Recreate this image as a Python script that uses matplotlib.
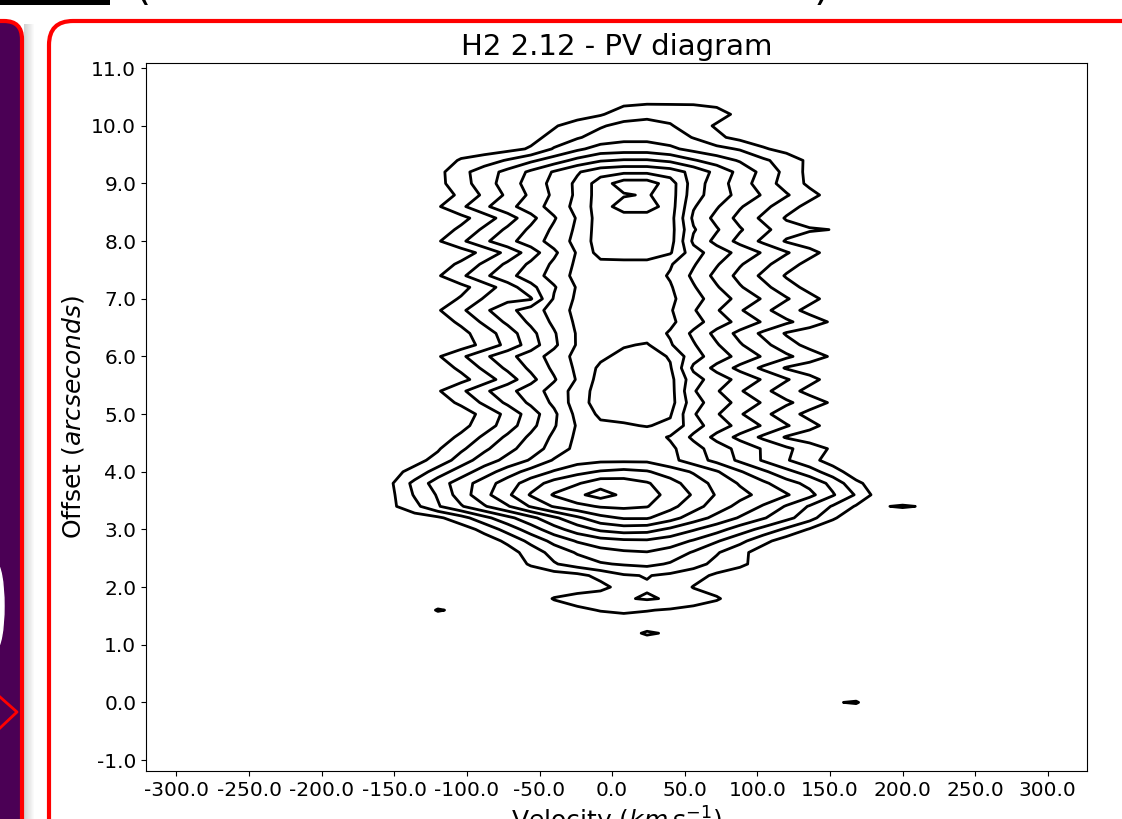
import numpy as np
import matplotlib
matplotlib.use("Agg")
import matplotlib.pyplot as plt
from matplotlib.patches import FancyBboxPatch, Rectangle, Ellipse
from matplotlib.ticker import FormatStrFormatter

# velocity channels (km/s)
velocity = [-168, -152, -136, -120, -104, -88, -72, -56, -40, -24, -8, 8, 24,
            40, 56, 72, 88, 104, 120, 136, 152, 168, 184, 200, 216, 232]

# contour levels (arbitrary flux units)
levels = [0.5, 1.5, 2.5, 3.5, 4.5, 5.5, 6.5, 7.5, 8.5, 9.5]

x_ticks = [-300, -250, -200, -150, -100, -50, 0, 50, 100, 150, 200, 250, 300]
y_ticks = [-1, 0, 1, 2, 3, 4, 5, 6, 7, 8, 9, 10, 11]

# flux rows, listed from the top offset downwards
offset_top = [10.6, 10.4, 10.2, 10.0, 9.8, 9.6, 9.4, 9.2, 9.0]
flux_top = [
    [0, 0, 0, 0, 0, 0, 0, 0, 0, 0, 0, 0, 0, 0, 0, 0, 0, 0, 0, 0, 0, 0, 0, 0, 0, 0],
    [0, 0, 0, 0, 0, 0, 0, 0, 0, 0, 0, 0.3, 0.4, 0.4, 0.4, 0.3, 0, 0, 0, 0, 0, 0, 0, 0, 0, 0],
    [0, 0, 0, 0, 0, 0, 0, 0, 0, 0, 0.4, 1.0, 1.2, 1.1, 1.0, 0.8, 0.3, 0, 0, 0, 0, 0, 0, 0, 0, 0],
    [0, 0, 0, 0, 0, 0, 0, 0, 0.4, 1.0, 1.4, 1.8, 1.9, 1.6, 0.9, 0.4, 0, 0, 0, 0, 0, 0, 0, 0, 0, 0],
    [0, 0, 0, 0, 0, 0, 0, 0.2, 0.8, 1.4, 1.9, 2.2, 2.2, 2.0, 1.45, 0.7, 0.2, 0, 0, 0, 0, 0, 0, 0, 0, 0],
    [0, 0, 0, 0, 0, 0, 0.2, 0.6, 1.6, 2.3, 2.9, 3.0, 3.0, 2.7, 2.2, 1.8, 1.4, 0.6, 0.2, 0, 0, 0, 0, 0, 0, 0],
    [0, 0, 0, 0, 0.6, 1.0, 1.6, 2.3, 3.0, 3.8, 4.4, 4.6, 4.6, 4.3, 3.6, 3.0, 2.4, 1.7, 1.0, 0.3, 0, 0, 0, 0, 0, 0],
    [0, 0, 0, 0.2, 1.2, 2.0, 2.8, 3.7, 4.6, 5.4, 6.1, 6.3, 6.3, 6.0, 5.2, 4.2, 3.2, 2.2, 1.2, 0.2, 0, 0, 0, 0, 0, 0],
    [0, 0, 0, 0.2, 1.1, 2.0, 3.0, 3.9, 4.8, 5.7, 7.0, 8.0, 8.0, 7.0, 5.0, 4.0, 3.0, 2.0, 1.1, 0.3, 0, 0, 0, 0, 0, 0],
]

offset_upper = [8.8, 8.6, 8.4, 8.2, 8.0, 7.8, 7.6, 7.4, 7.2, 7.0, 6.8, 6.6,
                6.4, 6.2, 6.0, 5.8, 5.6, 5.4, 5.2, 5.0, 4.8, 4.6, 4.4]
flux_upper = [
    [0, 0, 0, 0, 0.7, 1.7, 2.7, 3.7, 4.7, 5.7, 7.0, 7.4, 7.6, 7.0, 4.9, 4.0, 3.2, 2.4, 1.6, 0.8, 0.1, 0, 0, 0, 0, 0],
    [0, 0, 0, 0.4, 1.3, 2.3, 3.2, 4.0, 4.9, 5.8, 7.0, 8.0, 8.0, 7.0, 4.6, 3.6, 2.6, 1.8, 0.9, 0.2, 0, 0, 0, 0, 0, 0],
    [0, 0, 0, 0, 0.2, 1.0, 2.0, 3.2, 4.4, 5.6, 7.0, 7.0, 7.0, 6.9, 4.3, 3.2, 2.2, 1.3, 0.4, 0, 0, 0, 0, 0, 0, 0],
    [0, 0, 0, 0, 0.7, 1.7, 2.7, 3.7, 4.7, 5.7, 7.0, 7.0, 7.0, 6.9, 4.6, 3.6, 2.6, 1.8, 0.9, 0.6, 0.48, 0, 0, 0, 0, 0],
    [0, 0, 0, 0.4, 1.3, 2.3, 3.2, 4.0, 4.9, 5.8, 7.0, 7.0, 7.0, 6.9, 4.3, 3.2, 2.2, 1.3, 0.4, 0, 0, 0, 0, 0, 0, 0],
    [0, 0, 0, 0, 0, 0.8, 1.8, 3.0, 4.3, 5.6, 6.9, 7.0, 7.0, 6.6, 4.9, 4.0, 3.2, 2.4, 1.6, 0.8, 0.1, 0, 0, 0, 0, 0],
    [0, 0, 0, 0, 0.7, 1.7, 2.7, 3.7, 4.7, 5.7, 6.2, 6.2, 6.2, 5.6, 4.6, 3.6, 2.6, 1.8, 0.9, 0.2, 0, 0, 0, 0, 0, 0],
    [0, 0, 0, 0.4, 1.3, 2.3, 3.2, 4.0, 4.9, 5.8, 6.0, 6.0, 6.0, 5.4, 4.3, 3.2, 2.2, 1.3, 0.4, 0, 0, 0, 0, 0, 0, 0],
    [0, 0, 0, 0, 0.2, 1.0, 2.0, 3.2, 4.4, 5.6, 6.0, 6.0, 6.0, 5.6, 4.6, 3.6, 2.6, 1.8, 0.9, 0.2, 0, 0, 0, 0, 0, 0],
    [0, 0, 0, 0, 0.6, 1.6, 2.2, 2.4, 4.6, 5.7, 6.0, 6.0, 6.0, 5.7, 4.9, 4.0, 3.2, 2.4, 1.6, 0.8, 0.1, 0, 0, 0, 0, 0],
    [0, 0, 0, 0.4, 1.3, 2.3, 3.2, 4.0, 4.9, 5.8, 6.0, 6.0, 6.0, 5.6, 4.6, 3.6, 2.6, 1.8, 0.9, 0.2, 0, 0, 0, 0, 0, 0],
    [0, 0, 0, 0, 0.7, 1.7, 2.7, 3.7, 4.7, 5.7, 6.0, 6.0, 6.0, 5.7, 4.9, 4.0, 3.2, 2.4, 1.7, 1.0, 0.35, 0, 0, 0, 0, 0],
    [0, 0, 0, 0, 0.2, 1.0, 2.0, 3.2, 4.4, 5.6, 6.0, 6.0, 6.0, 5.4, 4.3, 3.2, 2.2, 1.3, 0.4, 0, 0, 0, 0, 0, 0, 0],
    [0, 0, 0, 0, 0, 0.8, 1.8, 3.0, 4.3, 5.6, 6.0, 6.4, 6.6, 5.6, 4.6, 3.6, 2.6, 1.8, 0.9, 0.2, 0, 0, 0, 0, 0, 0],
    [0, 0, 0, 0.4, 1.3, 2.3, 3.2, 4.0, 4.9, 5.8, 6.3, 6.8, 7.0, 6.4, 4.9, 4.0, 3.2, 2.4, 1.7, 1.0, 0.35, 0, 0, 0, 0, 0],
    [0, 0, 0, 0, 0.7, 1.7, 2.7, 3.7, 4.7, 5.7, 6.7, 7.0, 7.0, 6.6, 4.3, 3.2, 2.2, 1.3, 0.4, 0, 0, 0, 0, 0, 0, 0],
    [0, 0, 0, 0, 0.2, 1.0, 2.0, 3.2, 4.4, 5.6, 6.9, 7.0, 7.0, 6.8, 4.9, 4.0, 3.2, 2.4, 1.6, 0.8, 0.1, 0, 0, 0, 0, 0],
    [0, 0, 0, 0.4, 1.3, 2.3, 3.2, 4.0, 4.9, 5.9, 7.0, 7.0, 7.0, 6.9, 4.6, 3.6, 2.6, 1.8, 0.9, 0.2, 0, 0, 0, 0, 0, 0],
    [0, 0, 0, 0, 0.7, 1.7, 2.7, 3.7, 4.7, 6.0, 7.0, 7.0, 7.0, 6.9, 4.9, 4.0, 3.2, 2.4, 1.7, 1.0, 0.35, 0, 0, 0, 0, 0],
    [0, 0, 0, 0, 0, 0.8, 1.8, 3.0, 4.3, 5.8, 6.7, 6.8, 6.9, 6.6, 4.6, 3.6, 2.6, 1.8, 0.9, 0.2, 0, 0, 0, 0, 0, 0],
    [0, 0, 0, 0, 0.2, 1.0, 2.0, 3.2, 4.4, 5.6, 6.3, 6.4, 6.55, 6.3, 4.9, 4.0, 3.2, 2.4, 1.6, 0.8, 0.1, 0, 0, 0, 0, 0],
    [0, 0, 0, 0, 0.7, 1.7, 2.7, 3.7, 4.7, 5.7, 6.0, 6.0, 6.0, 5.4, 4.3, 3.2, 2.2, 1.3, 0.4, 0, 0, 0, 0, 0, 0, 0],
    [0, 0, 0, 0.4, 1.3, 2.3, 3.2, 4.0, 4.9, 5.8, 6.0, 6.0, 6.0, 5.7, 4.9, 4.0, 3.2, 2.4, 1.7, 1.0, 0.35, 0, 0, 0, 0, 0],
]

offset_lower = [4.2, 4.0, 3.8, 3.6, 3.4, 3.2, 3.0, 2.8, 2.6, 2.4, 2.2, 2.0, 1.8, 1.6]
flux_lower = [
    [0, 0, 0.2, 0.8, 2.0, 3.0, 3.8, 4.6, 5.6, 6.1, 6.3, 6.3, 6.3, 5.8, 5.0, 4.2, 3.3, 2.4, 1.6, 0.8, 0.1, 0, 0, 0, 0, 0],
    [0, 0.2, 0.8, 2.0, 3.0, 4.0, 5.0, 5.9, 6.6, 7.2, 7.6, 7.8, 7.6, 7.0, 6.4, 5.6, 4.6, 3.7, 2.8, 2.0, 0.9, 0, 0, 0, 0, 0],
    [0, 0.4, 1.8, 3.0, 4.0, 5.0, 6.0, 7.0, 7.9, 8.4, 9.1, 9.0, 8.6, 7.9, 7.0, 6.2, 5.4, 4.7, 3.9, 3.2, 2.2, 0.7, 0, 0, 0, 0],
    [0, 0.3, 1.6, 2.6, 4.0, 5.2, 6.3, 7.6, 8.6, 9.3, 9.9, 9.3, 8.9, 8.2, 7.4, 6.4, 5.8, 5.2, 4.6, 3.8, 2.6, 1.4, 0, 0, 0, 0],
    [0, 0.3, 1.2, 2.4, 3.4, 4.4, 5.4, 6.6, 7.6, 8.2, 8.6, 8.7, 8.55, 7.8, 6.9, 6.0, 5.2, 4.4, 3.4, 2.4, 1.4, 0.4, 0.45, 0.56, 0.45, 0],
    [0, 0, 0, 0.3, 1.1, 2.2, 3.2, 4.2, 5.3, 6.3, 7.2, 7.6, 7.6, 6.9, 6.0, 5.2, 4.4, 3.6, 2.8, 1.9, 0.6, 0, 0, 0, 0, 0],
    [0, 0, 0, 0, 0, 0.8, 1.9, 3.0, 4.1, 5.0, 5.7, 6.0, 5.9, 5.3, 4.6, 3.9, 3.0, 2.2, 1.3, 0.4, 0, 0, 0, 0, 0, 0],
    [0, 0, 0, 0, 0, 0, 0.7, 1.8, 2.8, 3.6, 4.1, 4.3, 4.35, 4.0, 3.4, 2.6, 1.8, 0.8, 0, 0, 0, 0, 0, 0, 0, 0],
    [0, 0, 0, 0, 0, 0, 0.1, 0.9, 1.9, 2.6, 3.1, 3.35, 3.45, 3.1, 2.4, 1.6, 0.8, 0, 0, 0, 0, 0, 0, 0, 0, 0],
    [0, 0, 0, 0, 0, 0, 0, 0.6, 1.4, 2.0, 2.4, 2.6, 2.75, 2.4, 1.9, 1.2, 0.7, 0.1, 0, 0, 0, 0, 0, 0, 0, 0],
    [0, 0, 0, 0, 0, 0, 0, 0, 0, 0.2, 0.8, 1.4, 1.55, 1.3, 0.9, 0.3, 0, 0, 0, 0, 0, 0, 0, 0, 0, 0],
    [0, 0, 0, 0, 0, 0, 0, 0, 0, 0, 0.2, 0.9, 1.4, 1.2, 0.45, 0.1, 0, 0, 0, 0, 0, 0, 0, 0, 0, 0],
    [0, 0, 0, 0, 0, 0, 0, 0, 0.55, 0.9, 1.1, 1.4, 1.6, 1.4, 1.0, 0.6, 0, 0, 0, 0, 0, 0, 0, 0, 0, 0],
    [0, 0, 0, 0.56, 0.35, 0, 0, 0, 0.1, 0.3, 0.55, 0.7, 0.55, 0.4, 0.2, 0, 0, 0, 0, 0, 0, 0, 0, 0, 0, 0],
]

offset_bottom = [1.4, 1.2, 1.0, 0.8, 0.6, 0.4, 0.2, 0.0, -0.2]
flux_bottom = [
    [0, 0, 0, 0, 0, 0, 0, 0, 0, 0, 0, 0, 0, 0, 0, 0, 0, 0, 0, 0, 0, 0, 0, 0, 0, 0],
    [0, 0, 0, 0, 0, 0, 0, 0, 0, 0, 0, 0.2, 0.6, 0.4, 0, 0, 0, 0, 0, 0, 0, 0, 0, 0, 0, 0],
    [0, 0, 0, 0, 0, 0, 0, 0, 0, 0, 0, 0, 0, 0, 0, 0, 0, 0, 0, 0, 0, 0, 0, 0, 0, 0],
    [0, 0, 0, 0, 0, 0, 0, 0, 0, 0, 0, 0, 0, 0, 0, 0, 0, 0, 0, 0, 0, 0, 0, 0, 0, 0],
    [0, 0, 0, 0, 0, 0, 0, 0, 0, 0, 0, 0, 0, 0, 0, 0, 0, 0, 0, 0, 0, 0, 0, 0, 0, 0],
    [0, 0, 0, 0, 0, 0, 0, 0, 0, 0, 0, 0, 0, 0, 0, 0, 0, 0, 0, 0, 0, 0, 0, 0, 0, 0],
    [0, 0, 0, 0, 0, 0, 0, 0, 0, 0, 0, 0, 0, 0, 0, 0, 0, 0, 0, 0, 0, 0, 0, 0, 0, 0],
    [0, 0, 0, 0, 0, 0, 0, 0, 0, 0, 0, 0, 0, 0, 0, 0, 0, 0, 0, 0, 0.45, 0.56, 0, 0, 0, 0],
    [0, 0, 0, 0, 0, 0, 0, 0, 0, 0, 0, 0, 0, 0, 0, 0, 0, 0, 0, 0, 0, 0, 0, 0, 0, 0],
]

offsets = np.array(offset_top + offset_upper + offset_lower + offset_bottom)[::-1]
flux = np.array(flux_top + flux_upper + flux_lower + flux_bottom, dtype=float)[::-1]

fig = plt.figure(figsize=(11.22, 8.19), dpi=100)

# poster background around the plot, in pixel units
bg = fig.add_axes([0, 0, 1, 1])
bg.set_xlim(0, 1122)
bg.set_ylim(819, 0)
bg.axis("off")
for k in range(10):
    bg.add_patch(Rectangle((24 + k, 24), 1, 820, color="0.45", alpha=0.32 * (1 - k / 10), lw=0))
bg.add_patch(FancyBboxPatch((-60, 21), 82, 900, boxstyle="round,pad=0,rounding_size=18",
                            fc="#4b0055", ec="red", lw=3))
bg.add_patch(Ellipse((-4, 606), 16, 86, color="white"))
bg.plot([0, 17, 0], [697, 712, 728], color="red", lw=2)
bg.add_patch(FancyBboxPatch((49, 21), 1200, 900, boxstyle="round,pad=0,rounding_size=24",
                            fc="white", ec="red", lw=3))
bg.add_patch(Rectangle((0, 0), 110, 5, color="black", lw=0))
bg.text(143, 0, "(", fontsize=30, ha="center", va="baseline")
bg.text(822, 0, ")", fontsize=30, ha="center", va="baseline")

ax = fig.add_axes([146 / 1122, 48 / 819, 941 / 1122, 708 / 819])
ax.contour(velocity, offsets, flux, levels=levels, colors="black", linewidths=2.0)
ax.set_xlim(-321, 327)
ax.set_ylim(-1.19, 11.09)
ax.set_xticks(x_ticks)
ax.set_yticks(y_ticks)
ax.xaxis.set_major_formatter(FormatStrFormatter("%.1f"))
ax.yaxis.set_major_formatter(FormatStrFormatter("%.1f"))
ax.tick_params(labelsize=14.5)
ax.set_title("H2 2.12 - PV diagram", fontsize=21)
ax.set_xlabel("Velocity ($km\\,s^{-1}$)", fontsize=18)
ax.set_ylabel("Offset ($arcseconds$)", fontsize=18)

fig.savefig("out.png", dpi=100)
